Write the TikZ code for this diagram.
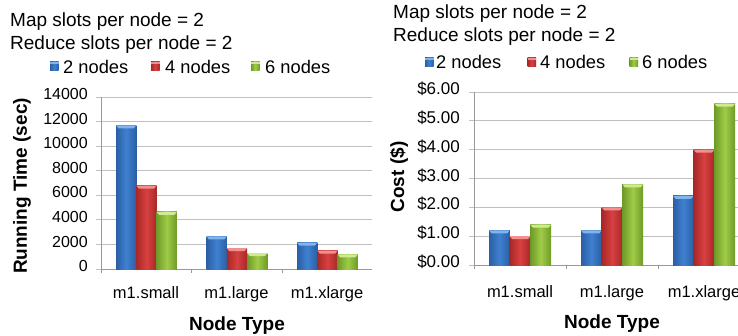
\documentclass[tikz,border=0pt]{standalone}
\usepackage{fontspec}
\setmainfont{Liberation Sans}
\definecolor{bB}{HTML}{4080D0}\definecolor{bD}{HTML}{2A5FA5}\definecolor{bL}{HTML}{80B4EE}
\definecolor{rB}{HTML}{D84040}\definecolor{rD}{HTML}{A82828}\definecolor{rL}{HTML}{F29090}
\definecolor{gB}{HTML}{A0CC48}\definecolor{gD}{HTML}{6E9A28}\definecolor{gL}{HTML}{CDEB90}
\definecolor{gridc}{HTML}{C0C0C0}
\begin{document}
\begin{tikzpicture}[x=1pt,y=-1pt,
  hdr/.style={anchor=base west,inner sep=0pt,font=\fontsize{19}{21}\selectfont},
  leg/.style={anchor=base west,inner sep=0pt,font=\fontsize{18.3}{20}\selectfont},
  tickl/.style={anchor=mid east,inner sep=0pt,font=\fontsize{16}{18}\selectfont},
  tickr/.style={anchor=mid east,inner sep=0pt,font=\fontsize{17}{19}\selectfont},
  catl/.style={anchor=base,inner sep=0pt,font=\fontsize{16.5}{18}\selectfont},
  axt/.style={anchor=base,inner sep=0pt,font=\bfseries\fontsize{19}{21}\selectfont},
  gridline/.style={draw=gridc,line width=0.8pt},
  axisline/.style={draw=gray!80,line width=0.8pt}]
\useasboundingbox (0,0) rectangle (738,335);
\fill[white] (0,0) rectangle (738,335);
% ---------------- left chart ----------------
\node[hdr] (lh1) at (10,26) {Map slots per node = 2};
\node[hdr] (lh2) at (10,49) {Reduce slots per node = 2};
\foreach \c/\d/\l/\sx/\tx/\t [count=\i] in {bB/bD/bL/50/63/2 nodes,rB/rD/rL/151/165/4 nodes,gB/gD/gL/251/265/6 nodes}{
  \fill[left color=\d,right color=\d,middle color=\c] (\sx,61.5) rectangle ++(8.5,8.5);
  \fill[\l] (\sx,61.5) rectangle ++(8.5,2);
  \node[leg] (ll\i) at (\tx,73) {\t};
}
\foreach \v/\lab [count=\i] in {0/0,2/2000,4/4000,6/6000,8/8000,10/10000,12/12000,14/14000}{
  \pgfmathsetmacro{\yy}{269-\v*172/14}
  \draw[gridline] (96,\yy) -- (372,\yy);
  \node[tickl] (lt\i) at (88,\yy) {\lab};
}
\draw[axisline] (101,97) -- (101,273);
\draw[axisline] (191.5,269) -- (191.5,273);
\draw[axisline] (282,269) -- (282,273);
\draw[axisline] (101,269) -- (372,269);
\foreach \xs/\top/\c/\d/\l in {
  116/125.3/bB/bD/bL, 136.3/185.5/rB/rD/rL, 156.6/211.9/gB/gD/gL,
  206.5/236.4/bB/bD/bL, 226.8/248.1/rB/rD/rL, 247.1/253/gB/gD/gL,
  297/242.6/bB/bD/bL, 317.3/250.6/rB/rD/rL, 337.6/254.3/gB/gD/gL}{
  \fill[left color=\d,right color=\d,middle color=\c] (\xs,\top) rectangle ++(20.3,269-\top);
  \fill[\l] (\xs,\top) -- ++(20.3,0) -- ++(-2.5,3) -- ++(-15.3,0) -- cycle;
}
\node[catl] (lc1) at (146,298) {m1.small};
\node[catl] (lc2) at (236.5,298) {m1.large};
\node[catl] (lc3) at (327,298) {m1.xlarge};
\node[axt] (lx) at (237,330) {Node Type};
\node[axt,rotate=90,anchor=center] (ly) at (22,186) {Running Time (sec)};
% ---------------- right chart ----------------
\node[hdr] (rh1) at (393,18.5) {Map slots per node = 2};
\node[hdr] (rh2) at (393,41.5) {Reduce slots per node = 2};
\foreach \c/\d/\l/\sx/\tx/\t [count=\i] in {bB/bD/bL/425/436/2 nodes,rB/rD/rL/527.5/540/4 nodes,gB/gD/gL/629.5/642/6 nodes}{
  \fill[left color=\d,right color=\d,middle color=\c] (\sx,57.5) rectangle ++(8.5,8.5);
  \fill[\l] (\sx,57.5) rectangle ++(8.5,2);
  \node[leg] (rl\i) at (\tx,68) {\t};
}
\foreach \v/\lab [count=\i] in {0/\$0.00,1/\$1.00,2/\$2.00,3/\$3.00,4/\$4.00,5/\$5.00,6/\$6.00}{
  \pgfmathsetmacro{\yy}{265-\v*173/6}
  \draw[gridline] (469,\yy) -- (738,\yy);
  \node[tickr] (rt\i) at (460,\yy) {\lab};
}
\draw[axisline] (474,92) -- (474,269);
\draw[axisline] (566,265) -- (566,269);
\draw[axisline] (658,265) -- (658,269);
\draw[axisline] (474,265) -- (738,265);
\foreach \xs/\top/\c/\d/\l in {
  489/230.4/bB/bD/bL, 509.7/236.2/rB/rD/rL, 530.4/224.6/gB/gD/gL,
  581/230.4/bB/bD/bL, 601.7/207.3/rB/rD/rL, 622.4/184.3/gB/gD/gL,
  673/195.8/bB/bD/bL, 693.7/149.7/rB/rD/rL, 714.4/103.6/gB/gD/gL}{
  \fill[left color=\d,right color=\d,middle color=\c] (\xs,\top) rectangle ++(20.7,265-\top);
  \fill[\l] (\xs,\top) -- ++(20.7,0) -- ++(-2.5,3) -- ++(-15.7,0) -- cycle;
}
\node[catl] (rc1) at (520,297) {m1.small};
\node[catl] (rc2) at (612,297) {m1.large};
\node[catl] (rc3) at (704,297) {m1.xlarge};
\node[axt] (rx) at (612,328) {Node Type};
\node[axt,rotate=90,anchor=center] (ry) at (399,177) {Cost (\$)};
\end{tikzpicture}
\end{document}
